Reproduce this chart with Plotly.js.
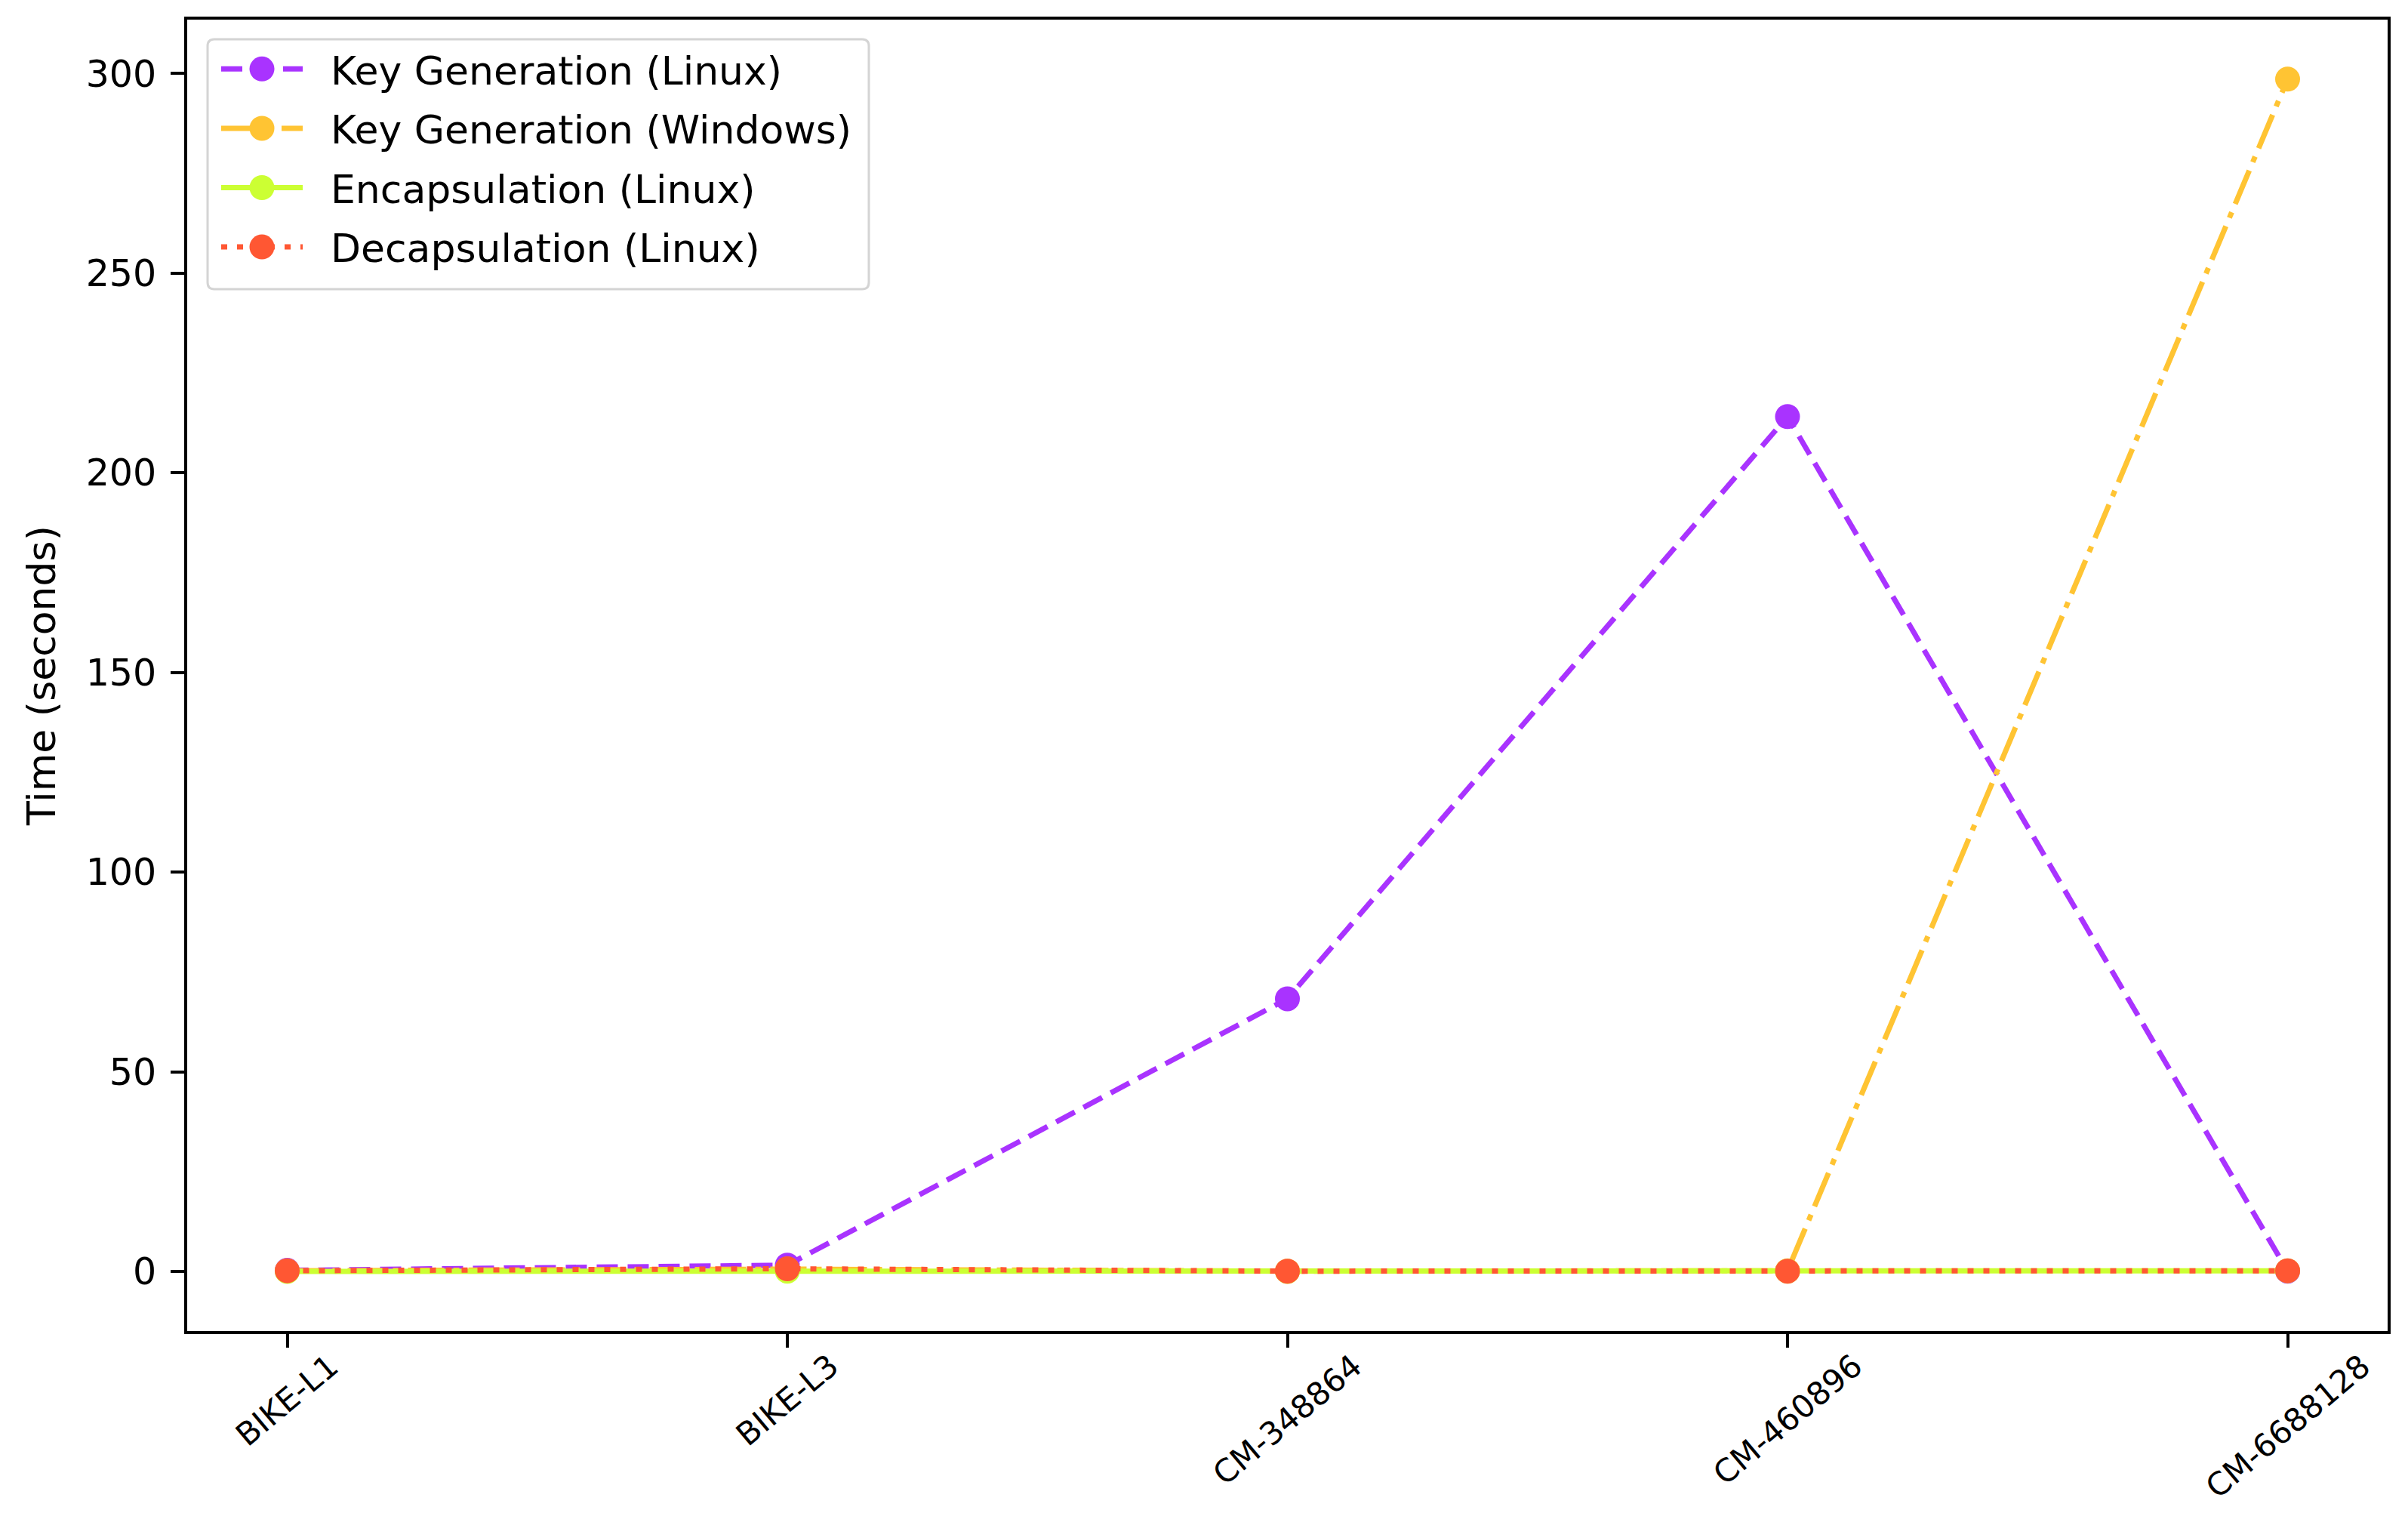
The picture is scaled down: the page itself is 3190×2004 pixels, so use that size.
<!DOCTYPE html>
<html><head><meta charset="utf-8">
<script src="https://cdn.plot.ly/plotly-3.0.1.min.js"></script>
<style>html,body{margin:0;padding:0;background:#fff;} #chart{width:3190px;height:2004px;}</style>
</head><body><div id="chart"></div>
<script>
// ---- data ----
const categories = ['BIKE-L1', 'BIKE-L3', 'CM-348864', 'CM-460896', 'CM-6688128'];
const keygenLinux   = [0.3, 1.6, 68.3, 214.1, 0.1];
const keygenWindows = [0.2, 0.6, 0.1, 0.2, 298.6];
const encapLinux    = [0.05, 0.1, 0.05, 0.1, 0.2];
const decapLinux    = [0.2, 0.7, 0.1, 0.1, 0.2];
const seriesNames = ['Key Generation (Linux)', 'Key Generation (Windows)', 'Encapsulation (Linux)', 'Decapsulation (Linux)'];
const yTickVals = [0, 50, 100, 150, 200, 250, 300];
const yTitle = 'Time (seconds)';

// ---- style ----
const W = 3190, H = 2004;
const M = {l: 248, r: 27, t: 26, b: 241};
const PW = W - M.l - M.r, PH = H - M.t - M.b;
const FONT = 'DejaVu Sans, Arial, sans-serif';
const colors = ['#A933FF', '#FFC433', '#CCFF33', '#FF5733'];
const dashes = ['28px,13px', '48px,12px,8px,12px', 'solid', '8px,13px'];
const values = [keygenLinux, keygenWindows, encapLinux, decapLinux];
const MARKER = 33, LW = 7;

const traces = values.map((v, i) => ({
  type: 'scatter', mode: 'lines+markers',
  x: categories, y: v, name: seriesNames[i],
  legendgroup: 'g' + i,
  line: {color: colors[i], width: LW, dash: dashes[i]},
  marker: {color: colors[i], size: MARKER, line: {width: 0}},
  cliponaxis: false
}));

const px2x = p => (p - M.l) / PW;
const px2y = p => (H - M.b - p) / PH;

// rounded legend frame (matplotlib style)
function roundRect(x0, y0, x1, y1, r) {
  const X0 = px2x(x0), X1 = px2x(x1), Y0 = px2y(y0), Y1 = px2y(y1);
  const rx = r / PW, ry = r / PH;
  return `M${X0 + rx},${Y0} L${X1 - rx},${Y0} Q${X1},${Y0} ${X1},${Y0 - ry} ` +
         `L${X1},${Y1 + ry} Q${X1},${Y1} ${X1 - rx},${Y1} L${X0 + rx},${Y1} ` +
         `Q${X0},${Y1} ${X0},${Y1 + ry} L${X0},${Y0 - ry} Q${X0},${Y0} ${X0 + rx},${Y0} Z`;
}

const annotations = categories.map(c => ({
  x: c, xref: 'x', y: px2y(1783), yref: 'paper',
  text: c, showarrow: false, textangle: -40,
  xanchor: 'center', yanchor: 'top', borderpad: 0,
  font: {family: FONT, size: 42, color: '#000'}
}));

const layout = {
  width: W, height: H,
  margin: M,
  paper_bgcolor: '#fff', plot_bgcolor: '#fff',
  showlegend: true,
  legend: {
    x: px2x(288), y: px2y(51), xanchor: 'left', yanchor: 'top',
    bgcolor: 'rgba(0,0,0,0)', borderwidth: 0,
    font: {family: FONT, size: 52, color: '#000'},
    tracegroupgap: 8, itemwidth: 108
  },
  xaxis: {
    type: 'category', range: [-0.2, 4.2],
    showgrid: false, zeroline: false,
    showline: true, mirror: true, linecolor: '#000', linewidth: 4,
    ticks: 'outside', ticklen: 18, tickwidth: 4, tickcolor: '#000',
    showticklabels: false
  },
  yaxis: {
    range: [-14.9, 313.5],
    tickvals: yTickVals,
    showgrid: false, zeroline: false,
    showline: true, mirror: true, linecolor: '#000', linewidth: 4,
    ticks: 'outside', ticklen: 18, tickwidth: 4, tickcolor: '#000',
    ticklabelstandoff: 9,
    tickfont: {family: FONT, size: 49, color: '#000'},
    title: {text: yTitle, font: {family: FONT, size: 52, color: '#000'}, standoff: 24}
  },
  annotations: annotations,
  shapes: [{
    type: 'path', xref: 'paper', yref: 'paper', layer: 'above',
    path: roundRect(275, 52, 1151, 383, 9),
    fillcolor: 'rgba(255,255,255,0.8)', line: {color: '#d4d4d4', width: 3}
  }]
};

Plotly.newPlot('chart', traces, layout, {displayModeBar: false, responsive: false}).then(gd => {
  // matplotlib-like legend samples: full-size markers, full line width, wider text gap
  gd.querySelectorAll('.legend [clip-path]').forEach(e => e.removeAttribute('clip-path'));
  gd.querySelectorAll('.legend .legendpoints path.scatterpts').forEach(p => {
    const t = p.getAttribute('transform') || '';
    p.setAttribute('transform', t + ' scale(' + (MARKER / 16) + ')');
  });
  gd.querySelectorAll('.legend .legendlines path').forEach(p => {
    p.style.strokeWidth = LW + 'px';
  });
  gd.querySelectorAll('.legend text.legendtext').forEach(t => {
    const x = parseFloat(t.getAttribute('x') || '0');
    t.setAttribute('x', x + 32);
    t.querySelectorAll('tspan[x]').forEach(s => s.setAttribute('x', parseFloat(s.getAttribute('x')) + 32));
  });
});
</script>
</body></html>
